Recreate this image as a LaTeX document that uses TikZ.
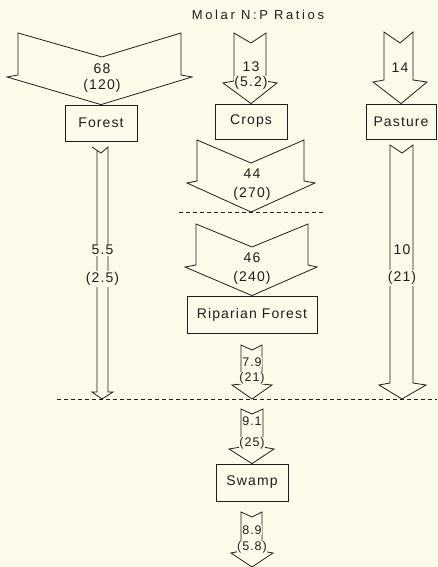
\documentclass[tikz,border=0pt]{standalone}
\usepackage{fontspec}
\setmainfont{Liberation Sans}
\newfontfamily\lettering[LetterSpace=8]{Liberation Sans}
\newfontfamily\titlelettering[LetterSpace=20]{Liberation Sans}
\definecolor{paper}{RGB}{252,250,232}
\definecolor{ink}{RGB}{30,30,30}

\begin{document}
\begin{tikzpicture}[x=1pt, y=-1pt, line width=0.8pt,
    flow/.style={draw=ink, line join=miter},
    place/.style={draw=ink, fill=paper, inner sep=0pt, text=ink,
      font=\lettering\fontsize{14pt}{14pt}\selectfont},
    ratio/.style={fill=paper, inner sep=1pt, text=ink,
      font=\lettering\fontsize{14pt}{14pt}\selectfont},
    smallratio/.style={ratio, inner sep=0.5pt,
      font=\lettering\fontsize{12.5pt}{12.5pt}\selectfont},
    cut/.style={draw=ink, dash pattern=on 4pt off 3pt}]
    \path[use as bounding box, fill=paper] (0,0) rectangle (437,567);

    \node[text=ink, font=\titlelettering\fontsize{13pt}{13pt}\selectfont] (title) at (258,15) {Molar N:P Ratios};

    % land uses
    \node[place, minimum width=72pt, minimum height=36pt] (forest) at (101,123) {Forest};
    \node[place, minimum width=72pt, minimum height=35pt] (crops) at (251,121.5) {Crops};
    \node[place, minimum width=70pt, minimum height=35pt] (pasture) at (401,121.5) {Pasture};
    \node[place, minimum width=130pt, minimum height=37pt] (riparian) at (252,314.5) {Riparian Forest};
    \node[place, minimum width=72pt, minimum height=37pt] (swamp) at (252,482.5) {Swamp};

    % fluxes
    \draw[flow] (18,33) -- (102,57) -- (181,33) -- (181,75) -- (192,77) -- (forest.north) -- (7,77) -- (18,75) -- cycle;
    \draw[flow] (234,33) -- (251,43) -- (266,33) -- (266,81) -- (277,83) -- (crops.north) -- (223,83) -- (234,81) -- cycle;
    \draw[flow] (384,32) -- (400,43) -- (413,32) -- (413,80) -- (427,82) -- (pasture.north) -- (373,82) -- (384,80) -- cycle;
    \draw[flow] (197,140) -- (251,163) -- (304,140) -- (304,181) -- (315,183) -- (251,212) -- (187,183) -- (197,181) -- cycle;
    \draw[flow] (196,224) -- (252,247) -- (308,224) -- (308,265) -- (317,267) -- (riparian.north) -- (185,267) -- (196,265) -- cycle;
    \draw[flow] (241,345) -- (252,350) -- (262,345) -- (262,384) -- (272,385) -- (252,399) -- (232,385) -- (241,384) -- cycle;
    \draw[flow] (241,409) -- (252,414) -- (263,409) -- (263,447) -- (274,449) -- (swamp.north) -- (229,449) -- (241,447) -- cycle;
    \draw[flow] (241,512) -- (252,517) -- (262,512) -- (262,551) -- (273,553) -- (252,567) -- (231,553) -- (241,551) -- cycle;
    \draw[flow] (92,147) -- (101,153) -- (108,147) -- (108,392) -- (113,392) -- (102,399) -- (92,392) -- (97,392) -- (97,150);
    \draw[flow] (390,145) -- (402,153) -- (413,145) -- (413,383) -- (426,385) -- (402,399) -- (379,385) -- (390,383) -- cycle;

    \draw[cut] (179,212) -- (323,212);
    \draw[cut] (57,399) -- (437,399);

    % ratios
    \node[ratio] (n1) at (102,69) {68};
    \node[ratio] (p1) at (102,86) {(120)};
    \node[ratio, inner sep=0pt] (n2) at (251,67) {13};
    \node[ratio, inner sep=0pt] (p2) at (251,83) {(5.2)};
    \node[ratio] (n3) at (400,68) {14};
    \node[ratio] (n4) at (252,174) {44};
    \node[ratio] (p4) at (252,194) {(270)};
    \node[ratio] (n5) at (252,258) {46};
    \node[ratio] (p5) at (252,278) {(240)};
    \node[ratio] (n6) at (102.5,250) {5.5};
    \node[ratio] (p6) at (102.5,279) {(2.5)};
    \node[ratio] (n7) at (402,250) {10};
    \node[ratio] (p7) at (402,278) {(21)};
    \node[smallratio] (n8) at (252,362) {7.9};
    \node[smallratio] (p8) at (252,378) {(21)};
    \node[smallratio] (n9) at (252,421) {9.1};
    \node[smallratio] (p9) at (252,443) {(25)};
    \node[smallratio] (n10) at (252,530) {8.9};
    \node[smallratio] (p10) at (252,547) {(5.8)};
  \end{tikzpicture}
\end{document}
